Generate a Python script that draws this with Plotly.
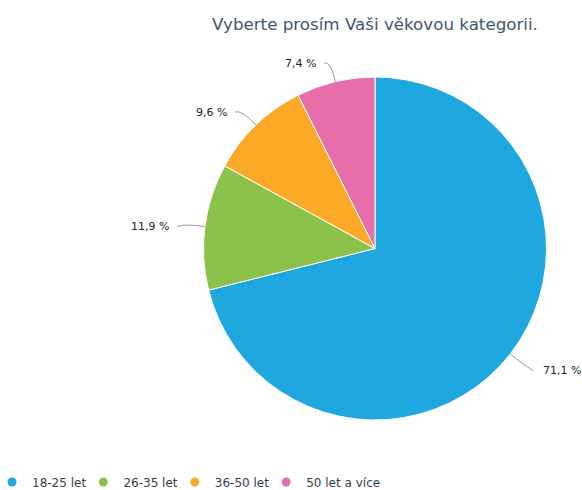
import math
import plotly.graph_objects as go

# ---- data ----
categories = ["18-25 let", "26-35 let", "36-50 let", "50 let a více"]
values = [71.1, 11.9, 9.6, 7.4]
value_labels = ["71,1 %", "11,9 %", "9,6 %", "7,4 %"]
colors = ["#1fa8e0", "#8bc34a", "#fba926", "#e76dab"]
title_text = "Vyberte prosím Vaši věkovou kategorii."

# ---- layout geometry (pixels) ----
W, H = 582, 490
CX, CY, R = 375, 248.5, 171.5
DIST = 22

def px(x):
    return x / W

def py(y):
    return 1 - y / H

fig = go.Figure()
fig.add_trace(go.Pie(
    labels=categories,
    values=values,
    marker=dict(colors=colors, line=dict(color="#ffffff", width=1)),
    sort=False,
    direction="clockwise",
    rotation=0,
    textinfo="none",
    hoverinfo="label+percent",
    showlegend=False,
    domain=dict(x=[px(CX - R), px(CX + R)], y=[py(CY + R), py(CY - R)]),
))

# legend entries with round markers
for name, col in zip(categories, colors):
    fig.add_trace(go.Scatter(
        x=[None], y=[None], mode="markers", name=name,
        marker=dict(color=col, size=9, symbol="circle"),
        showlegend=True, hoverinfo="skip",
    ))

# data labels with connectors derived from slice angles
total = sum(values)
cum = 0.0
shapes = []
annotations = []
for v, lab in zip(values, value_labels):
    mid = (cum + v / 2) / total * 2 * math.pi
    cum += v
    sx, sy = math.sin(mid), -math.cos(mid)
    x0, y0 = CX + R * sx, CY + R * sy
    x1, y1 = CX + (R + DIST) * sx, CY + (R + DIST) * sy
    right = sx >= 0
    x2 = x1 + (6 if right else -6)
    y2 = y1 + 3
    path = "M {:.4f} {:.4f} Q {:.4f} {:.4f} {:.4f} {:.4f}".format(
        px(x0), py(y0), px(x1), py(y1), px(x2), py(y2))
    shapes.append(dict(type="path", path=path, xref="paper", yref="paper",
                       line=dict(color="#999999", width=1)))
    annotations.append(dict(
        x=px(x2 + (7 if right else -6)), y=py(y2), xref="paper", yref="paper",
        text=lab, showarrow=False,
        xanchor="left" if right else "right", yanchor="middle",
        font=dict(family="DejaVu Sans", size=11, color="#222222"),
    ))

fig.update_layout(
    width=W, height=H,
    margin=dict(l=0, r=0, t=0, b=0, autoexpand=False),
    paper_bgcolor="#ffffff",
    plot_bgcolor="#ffffff",
    title=dict(text=title_text, x=px(CX), xanchor="center", y=py(24), yanchor="middle",
               font=dict(family="DejaVu Sans", size=16.7, color="#3e576f")),
    xaxis=dict(visible=False),
    yaxis=dict(visible=False),
    shapes=shapes,
    annotations=annotations,
    legend=dict(orientation="h", x=0, xanchor="left", y=py(482), yanchor="middle",
                font=dict(family="DejaVu Sans", size=12, color="#333e4c"),
                bgcolor="rgba(0,0,0,0)", itemclick=False, itemwidth=30,
                indentation=-8),
    showlegend=True,
)

fig.write_html("out.html", config={"displayModeBar": False},
               post_script="document.body.style.margin='0';")
